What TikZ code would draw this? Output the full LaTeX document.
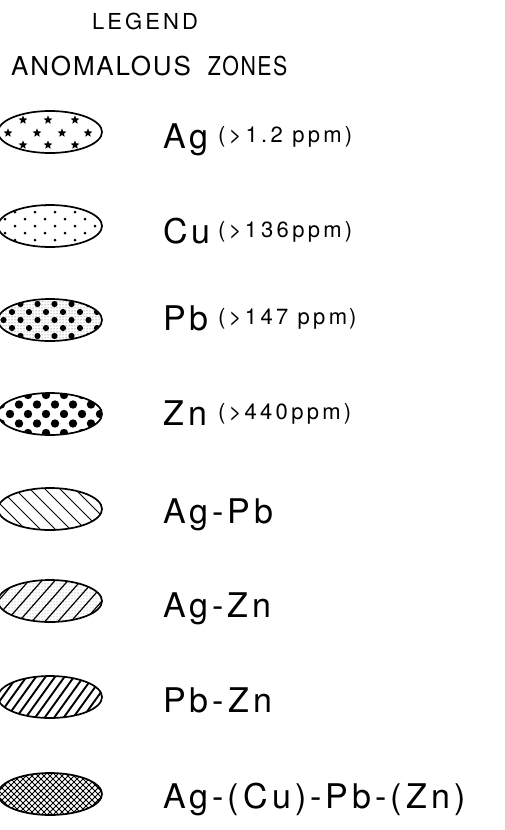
\documentclass[tikz,border=0pt]{standalone}
\usepackage{fontspec}
\setmainfont{TeX Gyre Heros}
\usetikzlibrary{patterns}
\newfontfamily\labfont[LetterSpace=12]{TeX Gyre Heros}
\newfontfamily\subfont[LetterSpace=15]{TeX Gyre Heros}
\newfontfamily\titfont[LetterSpace=14]{TeX Gyre Heros}
\newfontfamily\headfont[LetterSpace=7]{TeX Gyre Heros}
\newcommand\mystar[2]{\fill[shift={(#1,#2)}] (90:4.6pt) -- (126:2pt) -- (162:4.6pt) -- (198:2pt) -- (234:4.6pt) -- (270:2pt) -- (306:4.6pt) -- (342:2pt) -- (18:4.6pt) -- (54:2pt) -- cycle;}
\tikzset{
  zone/.style={line width=1.7pt},
  lab/.style={anchor=base west, inner sep=0pt, font=\labfont\fontsize{34}{34}\selectfont},
  sub/.style={anchor=base west, inner sep=0pt, font=\subfont\fontsize{22}{22}\selectfont},
  hatch/.style={line width=0.9pt},
}
\begin{document}
\begin{tikzpicture}[x=1pt,y=-1pt]
\fill[white] (0,0) rectangle (504,830);
\useasboundingbox (0,0) rectangle (504,830);
% titles
\node[anchor=base west, inner sep=0pt, font=\titfont\fontsize{22}{22}\selectfont] (legend) at (92,29) {LEGEND};
\node[anchor=base west, inner sep=0pt, font=\headfont\fontsize{26}{26}\selectfont] (anom) at (11,75) {ANOMALOUS\hspace{8pt} \scalebox{0.82}[1]{ZONES}};
% 1 Ag stars
\def\cy{132}
\begin{scope}
\clip (50,\cy) ellipse [x radius=52pt, y radius=21pt];
\foreach \x in {23,48,75} {\mystar{\x}{\cy-12}\mystar{\x}{\cy+13}}
\foreach \x in {8,37,62,88} {\mystar{\x}{\cy+1}}
\end{scope}
\draw[zone] (50,\cy) ellipse [x radius=52pt, y radius=21pt];
\node[lab] (tAg) at (163,148) {Ag};
\node[sub] (sAg) at (218,142) {(>\hspace{4pt}1.2 ppm)};
% 2 Cu dots
\def\cy{226}
\begin{scope}
\clip (50,\cy) ellipse [x radius=52pt, y radius=21pt];
\foreach \r/\o in {-21/0,-14/10,-7/0,0/10,7/0,14/10,21/0}
  \foreach \c in {-3,...,3} \fill ({50+\c*20+\o-5},{\cy+\r}) circle (1.5pt);
\end{scope}
\draw[zone] (50,\cy) ellipse [x radius=52pt, y radius=21pt];
\node[lab] (tCu) at (163,243) {Cu};
\node[sub] (sCu) at (218,237) {(>1\hspace{4pt}36ppm)};
% 3 Pb stipple + dots
\def\cy{320}
\begin{scope}
\clip (50,\cy) ellipse [x radius=52pt, y radius=21pt];
\fill[pattern=dots, pattern color=black!70] (-5,\cy-25) rectangle (105,\cy+25);
\foreach \r/\o in {-24/0,-16/8.5,-8/0,0/8.5,8/0,16/8.5,24/0}
  \foreach \c in {-4,...,4} \fill ({50+\c*17+\o-4},{\cy+\r}) circle (3.1pt);
\end{scope}
\draw[zone] (50,\cy) ellipse [x radius=52pt, y radius=21pt];
\node[lab] (tPb) at (163,330) {Pb};
\node[sub] (sPb) at (218,324) {(>147 ppm\hspace{2pt})};
% 4 Zn big dots
\def\cy{414}
\begin{scope}
\clip (50,\cy) ellipse [x radius=52pt, y radius=21pt];
\foreach \r/\o in {-19/0,-9.5/9,0/0,9.5/9,19/0}
  \foreach \c in {-4,...,4} \fill ({50+\c*18+\o-4},{\cy+\r}) circle (4.2pt);
\end{scope}
\draw[zone] (50,\cy) ellipse [x radius=52pt, y radius=21pt];
\node[lab] (tZn) at (163,425) {Zn};
\node[sub] (sZn) at (218,419) {(>\hspace{3pt}440ppm)};
% 5 Ag-Pb backslash hatch
\def\cy{509}
\begin{scope}
\clip (50,\cy) ellipse [x radius=52pt, y radius=21pt];
\foreach \i in {-6,...,6} \draw[hatch] ({50+\i*15-25},{\cy-25}) -- ({50+\i*15+25},{\cy+25});
\end{scope}
\draw[zone] (50,\cy) ellipse [x radius=52pt, y radius=21pt];
\node[lab] (tAgPb) at (163,523) {Ag-Pb};
% 6 Ag-Zn slash hatch + stipple
\def\cy{601}
\begin{scope}
\clip (50,\cy) ellipse [x radius=52pt, y radius=21pt];
\fill[pattern=dots, pattern color=black!45] (-5,\cy-25) rectangle (105,\cy+25);
\foreach \i in {-7,...,7} \draw[hatch, line width=1.2pt] ({50+\i*13-22},{\cy+25}) -- ({50+\i*13+22},{\cy-25});
\end{scope}
\draw[zone] (50,\cy) ellipse [x radius=52pt, y radius=21pt];
\node[lab] (tAgZn) at (163,617) {Ag-Zn};
% 7 Pb-Zn dense slash hatch
\def\cy{697}
\begin{scope}
\clip (50,\cy) ellipse [x radius=52pt, y radius=21pt];
\foreach \i in {-10,...,10} \draw[hatch, line width=1.9pt] ({50+\i*9.5-18},{\cy+25}) -- ({50+\i*9.5+18},{\cy-25});
\end{scope}
\draw[zone] (50,\cy) ellipse [x radius=52pt, y radius=21pt];
\node[lab] (tPbZn) at (163,712) {Pb-Zn};
% 8 crosshatch
\def\cy{794}
\begin{scope}
\clip (50,\cy) ellipse [x radius=52pt, y radius=21pt];
\foreach \i in {-16,...,16} {
  \draw[hatch, line width=0.75pt] ({50+\i*6-25},{\cy+25}) -- ({50+\i*6+25},{\cy-25});
  \draw[hatch, line width=0.75pt] ({50+\i*6-25},{\cy-25}) -- ({50+\i*6+25},{\cy+25});
}
\end{scope}
\draw[zone] (50,\cy) ellipse [x radius=52pt, y radius=21pt];
\node[lab] (tAll) at (163,808) {Ag-(Cu)-Pb-(Zn)};
\end{tikzpicture}
\end{document}
